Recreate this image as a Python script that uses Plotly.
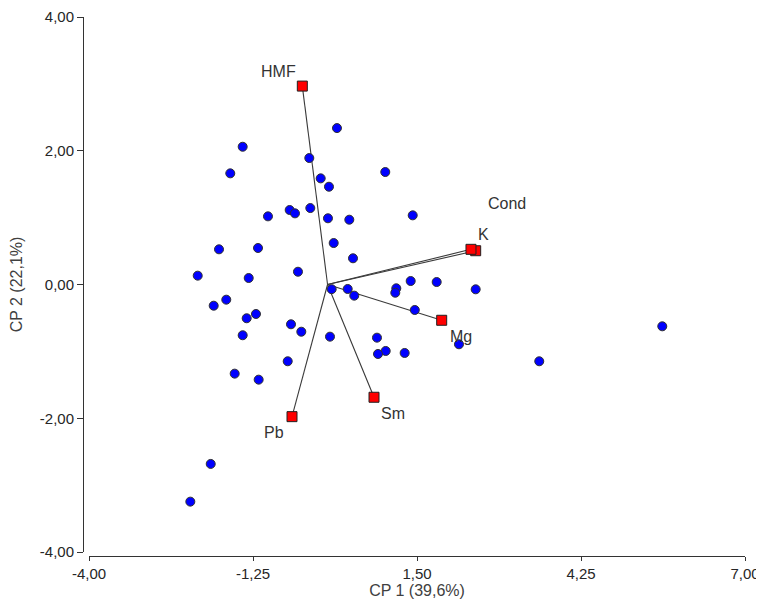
import plotly.graph_objects as go

# Scores (CP 1, CP 2) of the samples
pc1 = [0.158, -1.423, -0.306, -1.631, 0.968, -0.115, 0.024, -0.999, -0.635, -0.546,
       -0.289, 0.007, 0.365, 1.428, 0.103, -1.820, -1.166, 0.427, -2.177, -1.322,
       -0.496, 1.394, 1.153, 1.136, 0.069, 0.338, 0.448, 1.463, -1.909, -1.698,
       -1.356, -1.200, -1.423, -0.613, -0.440, 0.041, 0.829, 0.975, 0.846, 1.293,
       -0.668, -1.557, -1.155, -1.959, -2.301, 1.830, 2.484, 2.204, 3.550, 5.613]
pc2 = [2.339, 2.060, 1.891, 1.662, 1.682, 1.587, 1.462, 1.019, 1.114, 1.064,
       1.143, 0.990, 0.969, 1.034, 0.620, 0.526, 0.546, 0.392, 0.132, 0.097,
       0.191, 0.052, -0.057, -0.123, -0.070, -0.067, -0.167, -0.381, -0.317, -0.227,
       -0.505, -0.441, -0.759, -0.595, -0.706, -0.780, -0.795, -0.994, -1.039, -1.024,
       -1.148, -1.333, -1.423, -2.683, -3.247, 0.037, -0.072, -0.894, -1.148, -0.625]

# Variable loadings (biplot vectors)
var_names = ["HMF", "Cond", "K", "Mg", "Pb", "Sm"]
var_pc1 = [-0.423, 2.484, 2.405, 1.914, -0.596, 0.779]
var_pc2 = [2.967, 0.505, 0.526, -0.535, -1.976, -1.686]

# label offsets in pixels (dx, dy up-positive)
label_shift = {"HMF": (-24, 15), "Cond": (31, 47), "K": (13, 15),
               "Mg": (19, -16), "Pb": (-18, -16), "Sm": (19, -16)}

x_ticks = [-4.0, -1.25, 1.5, 4.25, 7.0]
y_ticks = [-4.0, -2.0, 0.0, 2.0, 4.0]


def fmt(v):
    return f"{v:.2f}".replace(".", ",")


fig = go.Figure()

# vectors from origin
lx, ly = [], []
for vx, vy in zip(var_pc1, var_pc2):
    lx += [0, vx, None]
    ly += [0, vy, None]
fig.add_trace(go.Scatter(x=lx, y=ly, mode="lines",
                         line=dict(color="#3a3a3a", width=1.1),
                         hoverinfo="skip", showlegend=False))

# sample points
fig.add_trace(go.Scatter(x=pc1, y=pc2, mode="markers",
                         marker=dict(symbol="circle", size=9, color="#0000FF",
                                     line=dict(color="#303030", width=1)),
                         showlegend=False))

# variable squares
fig.add_trace(go.Scatter(x=var_pc1, y=var_pc2, mode="markers",
                         marker=dict(symbol="square", size=10, color="#FF0000",
                                     line=dict(color="#202020", width=1)),
                         text=var_names, showlegend=False))

for name, vx, vy in zip(var_names, var_pc1, var_pc2):
    dx, dy = label_shift[name]
    fig.add_annotation(x=vx, y=vy, xref="x", yref="y", text=name, showarrow=False,
                       xshift=dx, yshift=dy,
                       font=dict(family="Liberation Sans, Arial", size=16, color="#333333"))

# page body has an 8px margin, so the figure is sized to fit inside the window
W, H = 756, 596
ml, mr, mt, mb = 75, 19, 9, 48
xdom0 = 6 / (W - ml - mr)
ydom0 = 4 / (H - mt - mb)

fig.update_layout(
    width=W, height=H,
    margin=dict(l=ml, r=mr, t=mt, b=mb, pad=0, autoexpand=False),
    plot_bgcolor="white", paper_bgcolor="white",
    font=dict(family="Liberation Sans, Arial", color="#262626"),
    xaxis=dict(range=[-4, 7], domain=[xdom0, 1], anchor="free", position=0,
               tickvals=x_ticks, ticktext=[fmt(v) for v in x_ticks],
               showgrid=False, zeroline=False, automargin=False,
               showline=True, linecolor="#333333", linewidth=1,
               ticks="outside", ticklen=4, tickcolor="#333333",
               tickfont=dict(size=15, color="#262626"),
               title=dict(text="CP 1 (39,6%)", standoff=2,
                          font=dict(size=16, color="#404040"))),
    yaxis=dict(range=[-4, 4], domain=[ydom0, 1], anchor="free", position=0,
               tickvals=y_ticks, ticktext=[fmt(v) for v in y_ticks],
               showgrid=False, zeroline=False, automargin=False,
               showline=True, linecolor="#333333", linewidth=1,
               ticks="outside", ticklen=6, tickcolor="#333333",
               tickfont=dict(size=15, color="#262626"),
               title=dict(text="CP 2 (22,1%)", standoff=12,
                          font=dict(size=16, color="#404040"))),
)

fig.write_html("out.html")
